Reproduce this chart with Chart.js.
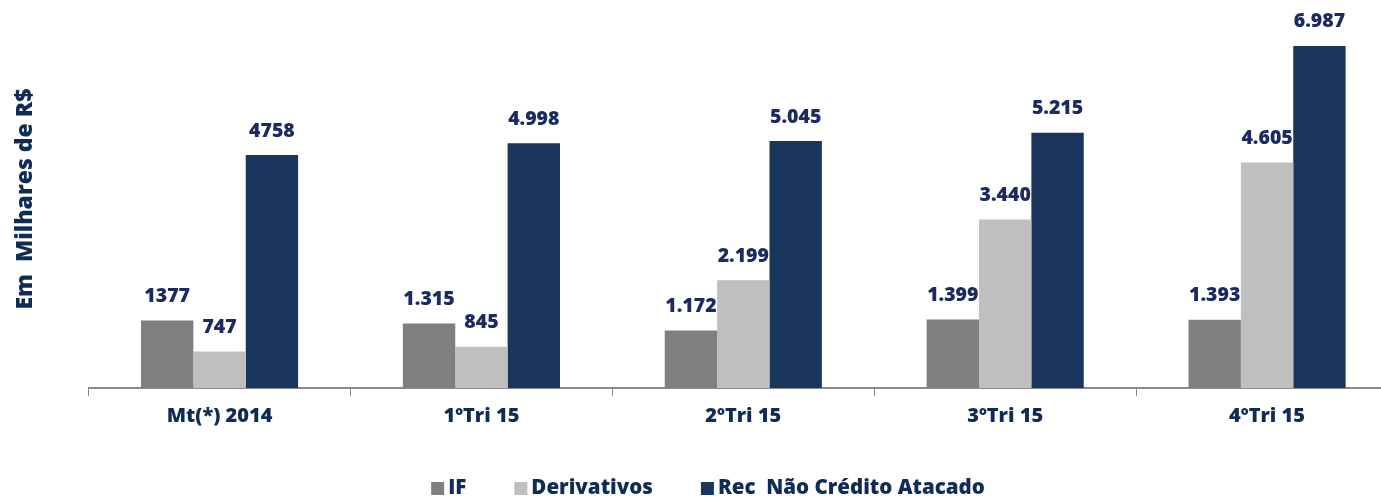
<!DOCTYPE html>
<html>
<head>
<meta charset="utf-8">
<script src="https://cdn.jsdelivr.net/npm/chart.js@4/dist/chart.umd.min.js"></script>
<style>
  html, body { margin: 0; padding: 0; background: #fff; overflow: hidden; }
  .chart-wrap { position: relative; width: 1400px; height: 499px; }
</style>
</head>
<body>
<div class="chart-wrap"><canvas id="chart-receitas"></canvas></div>
<script>
const CATEGORIES = ['Mt(*) 2014', '1ºTri 15', '2ºTri 15', '3ºTri 15', '4ºTri 15'];
const IF_DATA = [1377, 1315, 1172, 1399, 1393];
const DERIVATIVOS_DATA = [747, 845, 2199, 3440, 4605];
const REC_DATA = [4758, 4998, 5045, 5215, 6987];
const Y_TITLE = 'Em  Milhares de R$';

const NAVY = '#0f2c55';
const LABEL_COLOR = '#1b2b62';
const FONT = 'Open Sans';
const WEIGHT = '800';

// first column (Mt 2014) is shown without thousands separator in the original
const fmt = (v, i) => (i === 0 ? String(v) : String(v).replace(/\B(?=(\d{3})+(?!\d))/g, '.'));

const valueLabels = {
  id: 'valueLabels',
  afterDatasetsDraw(chart) {
    const ctx = chart.ctx;
    ctx.save();
    ctx.font = WEIGHT + ' 19.5px "' + FONT + '"';
    ctx.fillStyle = LABEL_COLOR;
    ctx.textAlign = 'center';
    ctx.textBaseline = 'middle';
    chart.data.datasets.forEach((ds, di) => {
      chart.getDatasetMeta(di).data.forEach((bar, i) => {
        ctx.fillText(fmt(ds.data[i], i), bar.x, bar.y - 24);
      });
    });
    ctx.restore();
  },
};

// legend drawn by hand: square + tight text, like the original
const bottomLegend = {
  id: 'bottomLegend',
  afterDraw(chart) {
    const ctx = chart.ctx;
    const box = 13, gapText = 4, gapItem = 48;
    ctx.save();
    ctx.font = WEIGHT + ' 20.5px "' + FONT + '"';
    ctx.textBaseline = 'middle';
    ctx.textAlign = 'left';
    const items = chart.data.datasets.map(ds => ({
      text: ds.label, color: ds.backgroundColor, w: ctx.measureText(ds.label).width,
    }));
    const total = items.reduce((s, it) => s + box + gapText + it.w, 0) + gapItem * (items.length - 1);
    let x = chart.width / 2 + 8 - total / 2;
    const y = chart.height - 11;
    items.forEach(it => {
      ctx.fillStyle = it.color;
      ctx.fillRect(x, y - 6, box, box);
      x += box + gapText;
      ctx.fillStyle = NAVY;
      ctx.fillText(it.text, x, y);
      x += it.w + gapItem;
    });
    ctx.restore();
  },
};

const ctx = document.getElementById('chart-receitas').getContext('2d');
new Chart(ctx, {
  type: 'bar',
  data: {
    labels: CATEGORIES,
    datasets: [
      { label: 'IF', data: IF_DATA, backgroundColor: '#808080' },
      { label: 'Derivativos', data: DERIVATIVOS_DATA, backgroundColor: '#bfbfbf' },
      { label: 'Rec  Não Crédito Atacado', data: REC_DATA, backgroundColor: '#1b365d' },
    ],
  },
  options: {
    responsive: true,
    maintainAspectRatio: false,
    animation: false,
    layout: { padding: { left: 9, right: 2, top: 10, bottom: 63 } },
    datasets: { bar: { categoryPercentage: 0.6, barPercentage: 1 } },
    plugins: {
      tooltip: { enabled: false },
      legend: { display: false },
    },
    scales: {
      x: {
        grid: { offset: true, drawOnChartArea: false, color: '#8a8a8a', tickLength: 8, lineWidth: 1 },
        border: { color: '#8a8a8a', width: 2 },
        ticks: { color: NAVY, padding: 8, font: { family: FONT, size: 20, weight: WEIGHT } },
      },
      y: {
        min: 0,
        max: 7720,
        grid: { display: false, drawTicks: false },
        border: { display: false },
        ticks: { display: false },
        title: {
          display: true,
          text: Y_TITLE,
          color: NAVY,
          padding: { top: 3, bottom: 49 },
          font: { family: FONT, size: 23, weight: WEIGHT },
        },
      },
    },
  },
  plugins: [valueLabels, bottomLegend],
});
</script>
</body>
</html>
